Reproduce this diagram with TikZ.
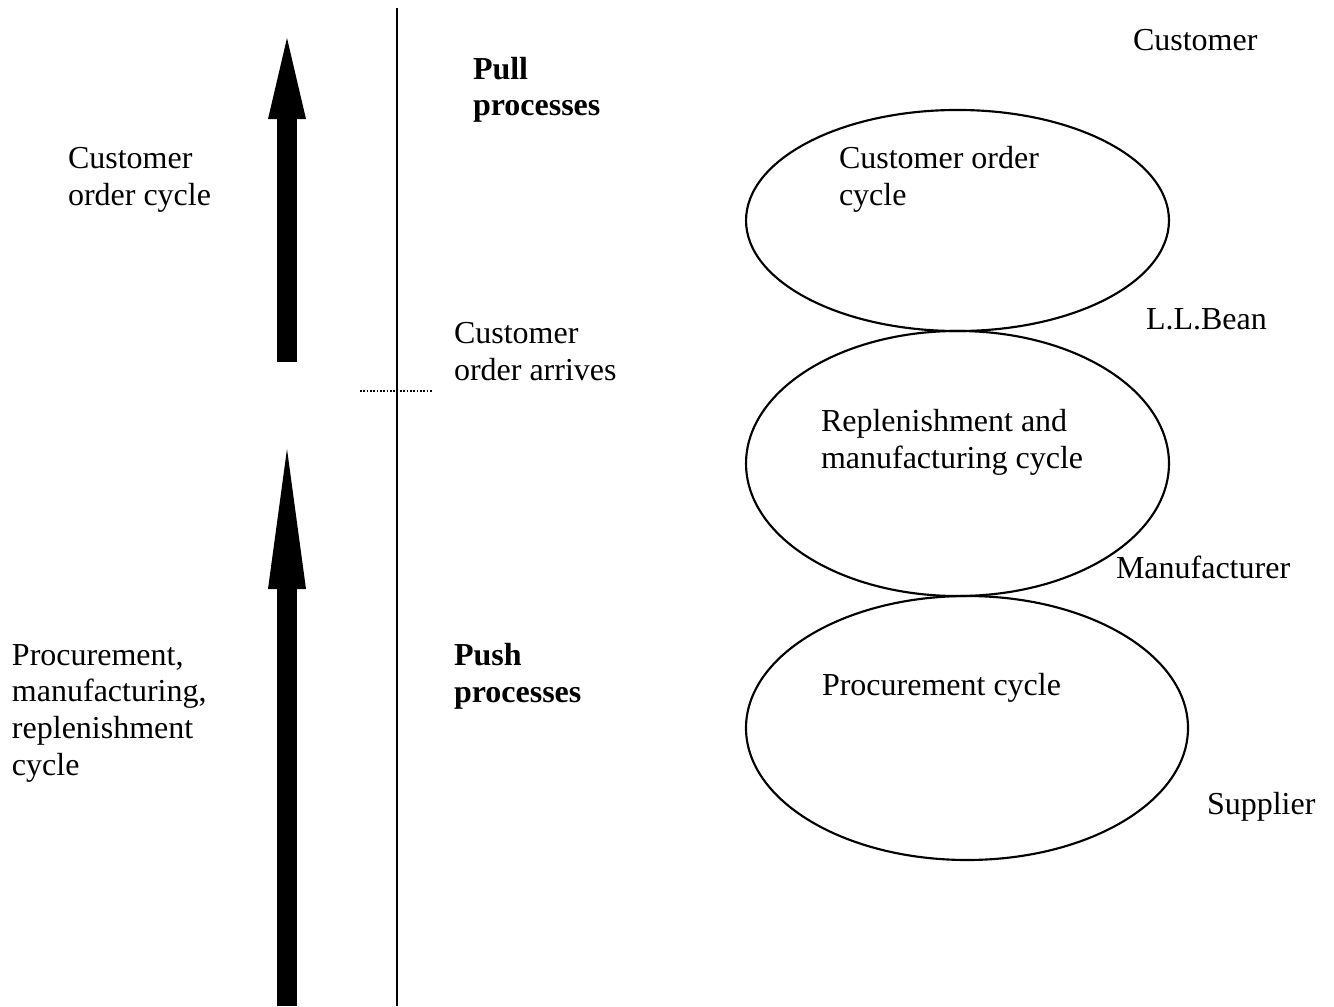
\documentclass[tikz,border=0pt]{standalone}
\usepackage{fontspec}
\setmainfont{Liberation Serif}
\usepackage{tikz}
\usetikzlibrary{arrows.meta}
\usetikzlibrary{shapes.geometric}
\tikzset{
lbl/.style = {anchor=base west, inner sep=0pt, outer sep=0pt, align=left,
              font=\fontsize{12}{13.7}\selectfont},
cyc/.style = {ellipse, draw, line width=0.8pt, inner sep=0pt},
flow/.style = {line width=7.5pt,
               -{Triangle[length=#1, width=14.25pt, line width=0pt]}},
flow/.default = 30pt % length of the arrow head
}
% labels are placed at the baseline of their last line
\newcommand{\lab}[3]{\node[lbl] (#1) at (#2) {#3};}
\newcommand{\loopnode}[4]{\node[cyc, minimum width=#3, minimum height=#4] (#1) at (#2) {};}

\begin{document}
\begin{tikzpicture}[x=0.375pt, y=-0.375pt]
        \useasboundingbox (0,0) rectangle (1334,1006);
        % divider and order arrival mark
        \coordinate (divtop) at (397,8);
        \coordinate (divbot) at (397,1006);
        \draw[line width=0.75pt] (divtop) -- (divbot);
        \coordinate (arrl) at (360,391);
        \coordinate (arrr) at (433,391);
        \draw[line width=0.6pt, dash pattern=on 0.6pt off 0.65pt] (arrl) -- (arrr);
        % flow arrows
        \coordinate (ordtail) at (287,362);
        \coordinate (ordtip) at (287,38);
        \draw[flow=30.4pt] (ordtail) -- (ordtip);
        \coordinate (protail) at (287,1006);
        \coordinate (protip) at (287,449);
        \draw[flow=52.5pt] (protail) -- (protip);
        % cycles
        \loopnode{ordcyc}{957.5,220.5}{158.6pt}{82.9pt};
        \loopnode{repcyc}{957.5,463.5}{158.6pt}{99.4pt};
        \loopnode{procyc}{967,728}{165.75pt}{99pt};
        % labels
        \lab{cust}{1133,51}{Customer};
        \lab{pull}{473,116}{\textbf{Pull}\\\textbf{processes}};
        \lab{ordleft}{68,205}{Customer\\order cycle};
        \lab{ordin}{839,205}{Customer order\\cycle};
        \lab{llbean}{1146,329}{L.L.Bean};
        \lab{arrives}{454,380}{Customer\\order arrives};
        \lab{repin}{821,468}{Replenishment and\\manufacturing cycle};
        \lab{manuf}{1116,578}{Manufacturer};
        \lab{procleft}{12,775}{Procurement,\\manufacturing,\\replenishment\\cycle};
        \lab{push}{454,702}{\textbf{Push}\\\textbf{processes}};
        \lab{procin}{822,695}{Procurement cycle};
        \lab{supp}{1207,814}{Supplier};
\end{tikzpicture}
\end{document}
